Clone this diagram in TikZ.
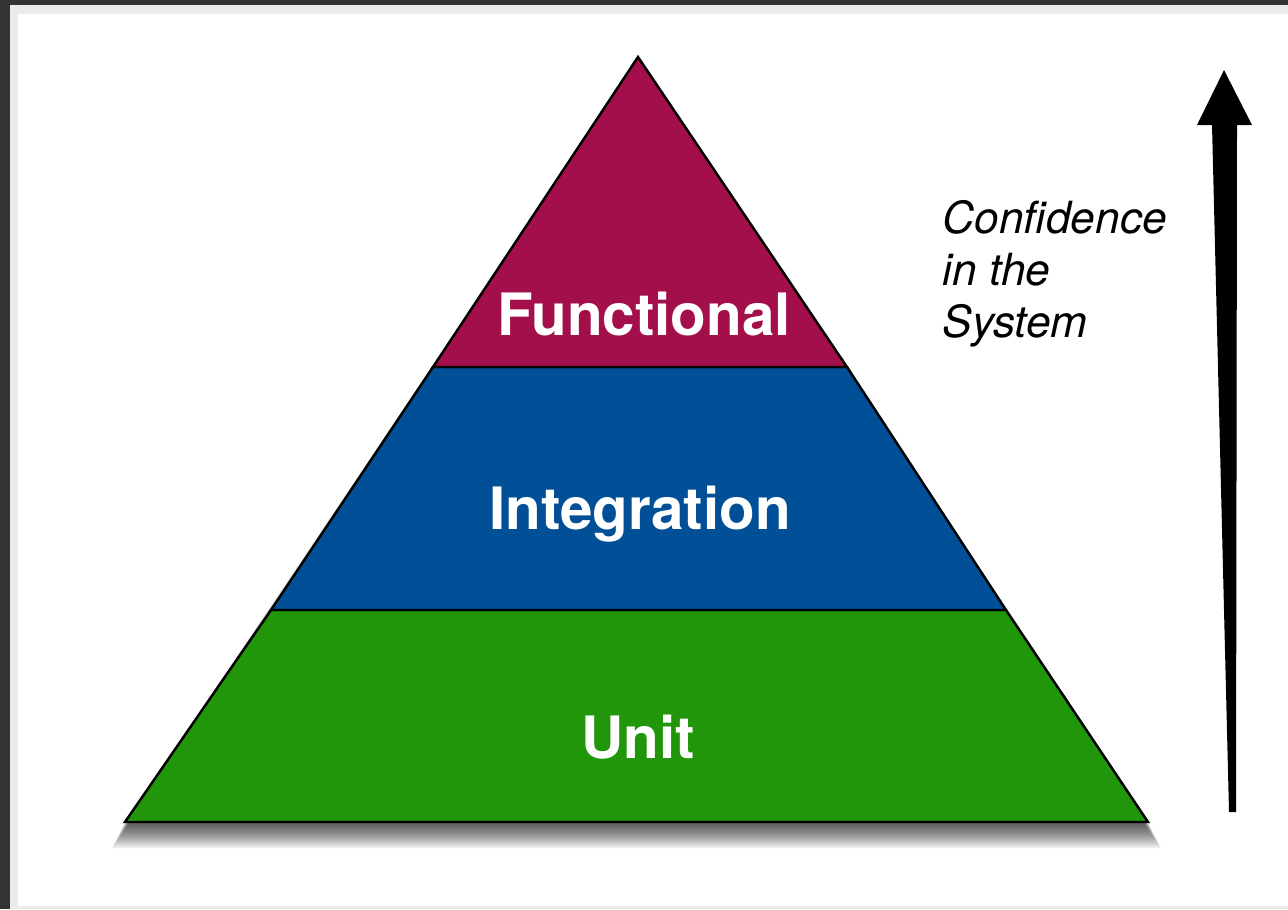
\documentclass[tikz,border=0pt]{standalone}
\usepackage{fontspec}
\setmainfont{TeX Gyre Heros}
\usepackage{xcolor}
\usetikzlibrary{positioning,calc}

\definecolor{funcred}{HTML}{A30F4A}
\definecolor{integblue}{HTML}{004F97}
\definecolor{unitgreen}{HTML}{21960B}
\definecolor{framedark}{HTML}{333333}
\definecolor{framegray}{HTML}{EBEBEB}

\tikzset{
    layer/.style={draw=black, line width=0.7pt, line join=miter},
    layerlabel/.style={text=white, font=\fontsize{16.6}{18}\selectfont\bfseries, inner sep=0pt},
    sidelabel/.style={font=\fontsize{12.6}{14.8}\selectfont\itshape, align=left, inner sep=0pt}
}

\begin{document}
\begin{tikzpicture}[x=0.01cm, y=-0.01cm]
    % Frame
    \fill[framedark] (0,0) rectangle (1288,909);
    \fill[framegray] (10,5) rectangle (1288,909);
    \fill[white] (18,14) rectangle (1288,906);
    \useasboundingbox (0,0) rectangle (1288,909);

    % Corners of the pyramid
    \coordinate (apex) at (638,57);
    \coordinate (bl) at (125,822);
    \coordinate (br) at (1148,822);
    \coordinate (fl) at (433,367);
    \coordinate (fr) at (847,367);
    \coordinate (il) at (271,610);
    \coordinate (ir) at (1006,610);

    % Shadow
    \foreach \s in {2,4,...,26}
        \fill[black, opacity=0.07] ($(apex)+(0,\s)$) -- ($(bl)+(-0.5*\s,\s)$) -- ($(br)+(0.5*\s,\s)$) -- cycle;

    % Layers
    \fill[layer, fill=unitgreen] (il) -- (bl) -- (br) -- (ir) -- cycle;
    \fill[layer, fill=integblue] (fl) -- (il) -- (ir) -- (fr) -- cycle;
    \fill[layer, fill=funcred] (apex) -- (fl) -- (fr) -- cycle;

    % Labels
    \node[layerlabel] (functional) at (644,314) {Functional};
    \node[layerlabel] (integration) at (640,514) {Integration};
    \node[layerlabel] (unit) at (638,737) {Unit};

    % Confidence arrow
    \fill[black] (1224,70) -- (1252,125) -- (1237,125) -- (1236,812)
        -- (1229,812) -- (1212,125) -- (1197,125) -- cycle;
    \node[sidelabel, anchor=north west] (confidence) at (942,200) {Confidence\\in the\\System};
\end{tikzpicture}
\end{document}
